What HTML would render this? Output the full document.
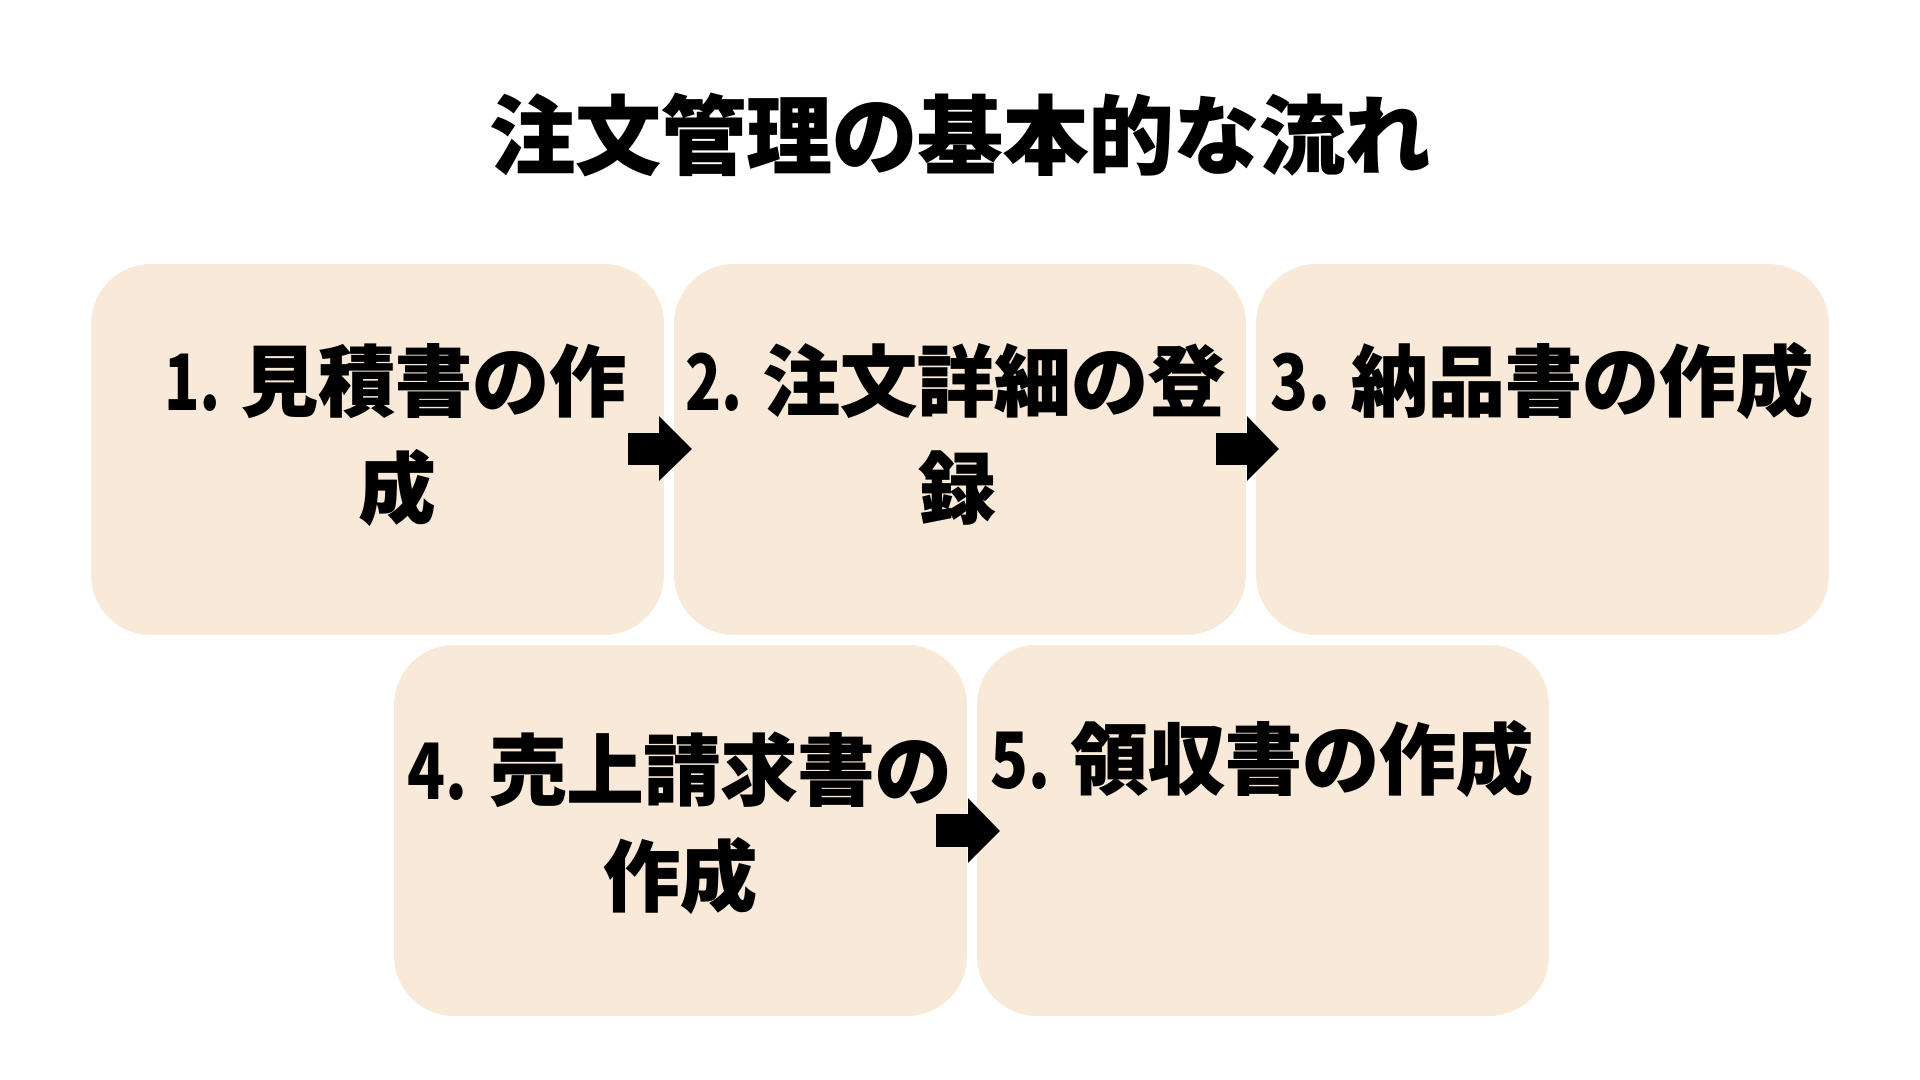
<!DOCTYPE html>
<html lang="ja"><head><meta charset="utf-8"><style>
html,body{margin:0;padding:0;background:#fff;width:1920px;height:1080px;overflow:hidden}
svg{display:block}
text{font-family:"Noto Sans CJK JP","Noto Sans CJK SC",sans-serif;font-weight:900;fill:#000;stroke:#000;stroke-width:0.8px;stroke-linejoin:miter}
.t{font-size:77px}
.c{text-anchor:middle}
.n{font-size:76px;stroke-width:0}
</style></head><body>
<svg width="1920" height="1080" viewBox="0 0 1920 1080" xmlns="http://www.w3.org/2000/svg">
<g fill="#f8e9d8">
<rect x="91" y="264" width="573" height="371" rx="60"/>
<rect x="674" y="264" width="572" height="371" rx="60"/>
<rect x="1256" y="264" width="573" height="371" rx="60"/>
<rect x="394" y="645" width="573" height="371" rx="60"/>
<rect x="977" y="645" width="572" height="371" rx="60"/>
</g>
<text class="c" x="960" y="167" style="font-size:85.5px">注文管理の基本的な流れ</text>

<text class="n" x="164" y="410" textLength="56" lengthAdjust="spacingAndGlyphs">1.</text>
<text class="t" x="241" y="410">見積書の作</text>
<text class="t c" x="397" y="517">成</text>

<text class="n" x="685" y="410" textLength="57" lengthAdjust="spacingAndGlyphs">2.</text>
<text class="t" x="763" y="410">注文詳細の登</text>
<text class="t c" x="957" y="517">録</text>

<text class="n" x="1270" y="410" textLength="60" lengthAdjust="spacingAndGlyphs">3.</text>
<text class="t" x="1351" y="410">納品書の作成</text>

<text class="n" x="407" y="799" textLength="60" lengthAdjust="spacingAndGlyphs">4.</text>
<text class="t" x="489.5" y="799">売上請求書の</text>
<text class="t c" x="680" y="905">作成</text>

<text class="n" x="990" y="788" textLength="60" lengthAdjust="spacingAndGlyphs">5.</text>
<text class="t" x="1071" y="788">領収書の作成</text>

<polygon points="628,433 659,433 659,416 692,449 659,481 659,465 628,465"/>
<polygon points="1216,433 1247,433 1247,416 1279,449 1247,481 1247,465 1216,465"/>
<polygon points="936,814 968,814 968,798 1000,831 968,863 968,847 936,847"/>
</svg>
</body></html>
